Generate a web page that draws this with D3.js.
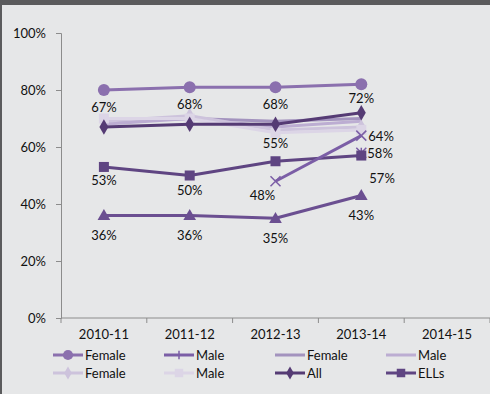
<!DOCTYPE html>
<html><head><meta charset="utf-8">
<script src="https://cdn.jsdelivr.net/npm/d3@7"></script>
<style>
html,body{margin:0;padding:0;background:#e6e7e8;}
svg{display:block;font-family:Lato,"Open Sans",sans-serif;}
</style></head><body>
<svg id="c" width="490" height="394"></svg>
<script>
const categories = ["2010-11","2011-12","2012-13","2013-14","2014-15"];
const yTicks = [0,20,40,60,80,100];
// series values (percent), null = no point
const femaleCircle = [80,81,81,82,null];
const maleX        = [null,null,48,64,null];
const femaleLine   = [69,70,69,70,null];
const maleLine     = [68,70,67,69,null];
const femaleDiamond= [69,71,66,67,null];
const maleSquare   = [70,70,65,66,null];
const allSeries    = [67,68,68,72,null];
const ellsSeries   = [53,50,55,57,null];
const triSeries    = [36,36,35,43,null];
const starSeries   = [null,null,null,58,null];
const legendNames  = ["Female","Male","Female","Male","Female","Male","All","ELLs"];

const svg = d3.select("#c");
svg.append("rect").attr("width",490).attr("height",394).attr("fill","#e6e7e8");
svg.append("rect").attr("x",0).attr("y",0).attr("width",490).attr("height",5).attr("fill","#5b5b5d");
svg.append("rect").attr("x",0).attr("y",0).attr("width",2).attr("height",394).attr("fill","#5b5b5d");

const x = d3.scaleBand().domain(categories).range([61,490]);
const y = d3.scaleLinear().domain([0,100]).range([318,33]);
const cx = c => x(c) + x.bandwidth()/2;

const axisColor = "#8c8c8c";
// y axis
const ya = svg.append("g").attr("transform","translate(61,0)")
  .call(d3.axisLeft(y).tickValues(yTicks).tickSize(5).tickPadding(10).tickFormat(d=>d+"%"));
ya.select(".domain").attr("stroke",axisColor);
ya.selectAll(".tick line").attr("stroke",axisColor);
ya.selectAll("text").attr("font-size",13).attr("fill","#111").attr("font-family","Lato");
// x axis
const xa = svg.append("g").attr("transform","translate(0,318)")
  .call(d3.axisBottom(x).tickSize(0).tickPadding(12));
xa.select(".domain").attr("stroke",axisColor).attr("d","M61,0H490");
xa.selectAll("text").attr("font-size",13).attr("fill","#111").attr("font-family","Lato");
svg.append("g").selectAll("line").data(categories.concat(["end"])).join("line")
  .attr("x1",(d,i)=>61+i*x.bandwidth()).attr("x2",(d,i)=>61+i*x.bandwidth())
  .attr("y1",318).attr("y2",323).attr("stroke",axisColor);

const series = [
  {name:"Female", vals:femaleCircle, color:"#8b70ae", marker:"circle"},
  {name:"Male", vals:maleX, color:"#7b5ea6", marker:"x"},
  {name:"Female", vals:femaleLine, color:"#a393be", marker:null},
  {name:"Male", vals:maleLine, color:"#bcadd2", marker:null},
  {name:"Female", vals:femaleDiamond, color:"#cdc3dc", marker:"diamond"},
  {name:"Male", vals:maleSquare, color:"#dcd5e6", marker:"square"},
  {name:"All", vals:allSeries, color:"#553b74", marker:"diamond"},
  {name:"ELLs", vals:ellsSeries, color:"#5f4582", marker:"square"},
  {name:"tri", vals:triSeries, color:"#6b4f91", marker:"triangle"},
  {name:"star", vals:starSeries, color:"#7b5ea6", marker:"star"}
];
const drawOrder = [2,3,4,5,0,8,9,7,1,6];

const line = d3.line().defined(d=>d.v!=null).x(d=>cx(d.c)).y(d=>y(d.v));

function marker(g, type, px, py, color, scale){
  scale = scale||1;
  if(type==="circle") g.append("circle").attr("cx",px).attr("cy",py).attr("r",6*scale).attr("fill",color);
  else if(type==="diamond") g.append("path").attr("d",d3.symbol(d3.symbolDiamond, 70*scale*scale)()).attr("transform",`translate(${px},${py})`).attr("fill",color);
  else if(type==="square") g.append("rect").attr("x",px-5*scale).attr("y",py-5*scale).attr("width",10*scale).attr("height",10*scale).attr("fill",color);
  else if(type==="triangle") g.append("path").attr("d",d3.symbol(d3.symbolTriangle, 70*scale*scale)()).attr("transform",`translate(${px},${py+1})`).attr("fill",color);
  else if(type==="x"){ const s=5*scale; g.append("path").attr("d",`M${px-s},${py-s}L${px+s},${py+s}M${px-s},${py+s}L${px+s},${py-s}`).attr("stroke",color).attr("stroke-width",1.5); }
  else if(type==="plus"){ const s=5*scale; g.append("path").attr("d",`M${px},${py-s}L${px},${py+s}`).attr("stroke",color).attr("stroke-width",1.5); }
  else if(type==="star"){ const s=5; g.append("path").attr("d",`M${px-s},${py-s}L${px+s},${py+s}M${px-s},${py+s}L${px+s},${py-s}M${px},${py-s}L${px},${py+s}`).attr("stroke",color).attr("stroke-width",1.5); }
}

const plot = svg.append("g");
drawOrder.forEach(i=>{
  const s = series[i];
  const pts = categories.map((c,j)=>({c, v:s.vals[j]}));
  plot.append("path").datum(pts).attr("d",line).attr("fill","none")
    .attr("stroke",s.color).attr("stroke-width",3).attr("stroke-linejoin","round");
  if(s.marker) pts.filter(d=>d.v!=null).forEach(d=>marker(plot,s.marker,cx(d.c),y(d.v),s.color));
});

// data labels: [seriesIndex, categoryIndex, dx, dy]
const labelSpecs = [
  [6,0,0,-15],[6,1,0,-15],[6,2,0,-15],[6,3,0,-10],
  [7,0,0,18],[7,1,0,19],[7,2,0,-13],[7,3,16,27],
  [8,0,0,25],[8,1,0,25],[8,2,0,25],[8,3,0,25],
  [1,2,-13,19],[1,3,15,5],[9,3,14,5]
];
svg.append("g").selectAll("text").data(labelSpecs).join("text")
  .attr("x",d=>cx(categories[d[1]])+d[2])
  .attr("y",d=>y(series[d[0]].vals[d[1]])+d[3])
  .attr("text-anchor",(d)=>d[2]>10?"start":"middle")
  .attr("dx",d=>d[2]>10?-8:0)
  .attr("font-size",13).attr("fill","#111")
  .text(d=>series[d[0]].vals[d[1]]+"%");

// legend
const legMarkers = ["circle","plus",null,null,"diamond","square","diamond","square"];
const leg = svg.append("g");
legendNames.forEach((n,i)=>{
  const col = i%4, row = Math.floor(i/4);
  const lx = 53 + col*111, ly = 355 + row*18;
  const s = series[i];
  leg.append("line").attr("x1",lx).attr("x2",lx+30).attr("y1",ly).attr("y2",ly).attr("stroke",s.color).attr("stroke-width",3);
  if(legMarkers[i]) marker(leg, legMarkers[i], lx+15, ly, s.color, 0.85);
  leg.append("text").attr("x",lx+32).attr("y",ly+5).attr("font-size",13).attr("fill","#111").text(n);
});
</script>
</body></html>
